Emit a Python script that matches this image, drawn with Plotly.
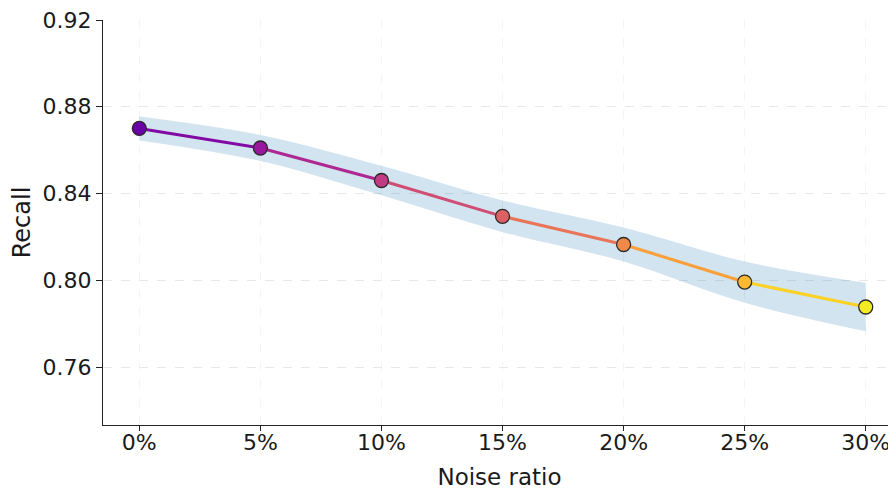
import plotly.graph_objects as go
import plotly.express as px

noise = [0, 5, 10, 15, 20, 25, 30]
recall = [0.870, 0.861, 0.846, 0.8295, 0.8165, 0.7992, 0.7877]
spread = [0.0055, 0.006, 0.0068, 0.0073, 0.0078, 0.0095, 0.0112]
y_ticks = [0.76, 0.80, 0.84, 0.88, 0.92]

n = len(noise)
pos = [0.2 + 0.77 * i / (n - 1) for i in range(n)]
pt_colors = px.colors.sample_colorscale("Plasma", pos)
mid_colors = px.colors.sample_colorscale("Plasma", [(pos[i] + pos[i + 1]) / 2 for i in range(n - 1)])

fig = go.Figure()
upper = [r + s for r, s in zip(recall, spread)]
lower = [r - s for r, s in zip(recall, spread)]
fig.add_trace(go.Scatter(x=noise, y=lower, mode="lines", line=dict(width=0, shape="spline"),
                         showlegend=False, hoverinfo="skip"))
fig.add_trace(go.Scatter(x=noise, y=upper, mode="lines", line=dict(width=0, shape="spline"),
                         fill="tonexty", fillcolor="rgba(31,119,180,0.2)", showlegend=False, hoverinfo="skip"))
for i in range(n - 1):
    fig.add_trace(go.Scatter(x=noise[i:i + 2], y=recall[i:i + 2], mode="lines",
                             line=dict(color=mid_colors[i], width=3), showlegend=False))
fig.add_trace(go.Scatter(x=noise, y=recall, mode="markers",
                         marker=dict(size=14, color=pt_colors, line=dict(color="#2a2a2a", width=1.3)),
                         showlegend=False, cliponaxis=False))

font = dict(family="DejaVu Sans", size=22, color="#1a1a1a")
fig.update_layout(
    width=896, height=491, margin=dict(l=95, r=8, t=12, b=74),
    plot_bgcolor="white", paper_bgcolor="white", font=font,
)
fig.update_xaxes(range=[-1.5, 31.25], tickvals=noise, ticktext=[f"{v}%" for v in noise],
                 title=dict(text="Noise ratio", font=dict(size=23), standoff=15),
                 showline=True, linecolor="#222", linewidth=1.2, ticks="outside", ticklen=5,
                 tickcolor="#222", showgrid=True, gridcolor="#f4f4f4", griddash="dash", zeroline=False,
                 ticklabeloverflow="allow", ticklabelstandoff=-8, automargin=False)
fig.update_yaxes(range=[0.7333, 0.92], tickvals=y_ticks, ticktext=[f"{v:.2f}" for v in y_ticks],
                 title=dict(text="Recall", font=dict(size=24), standoff=8),
                 showline=True, linecolor="#222", linewidth=1.2, ticks="outside", ticklen=6,
                 tickcolor="#222", showgrid=True, gridcolor="#e8e8e8", griddash="dash", zeroline=False,
                 ticklabeloverflow="allow", automargin=False)
fig.write_html("out.html")
